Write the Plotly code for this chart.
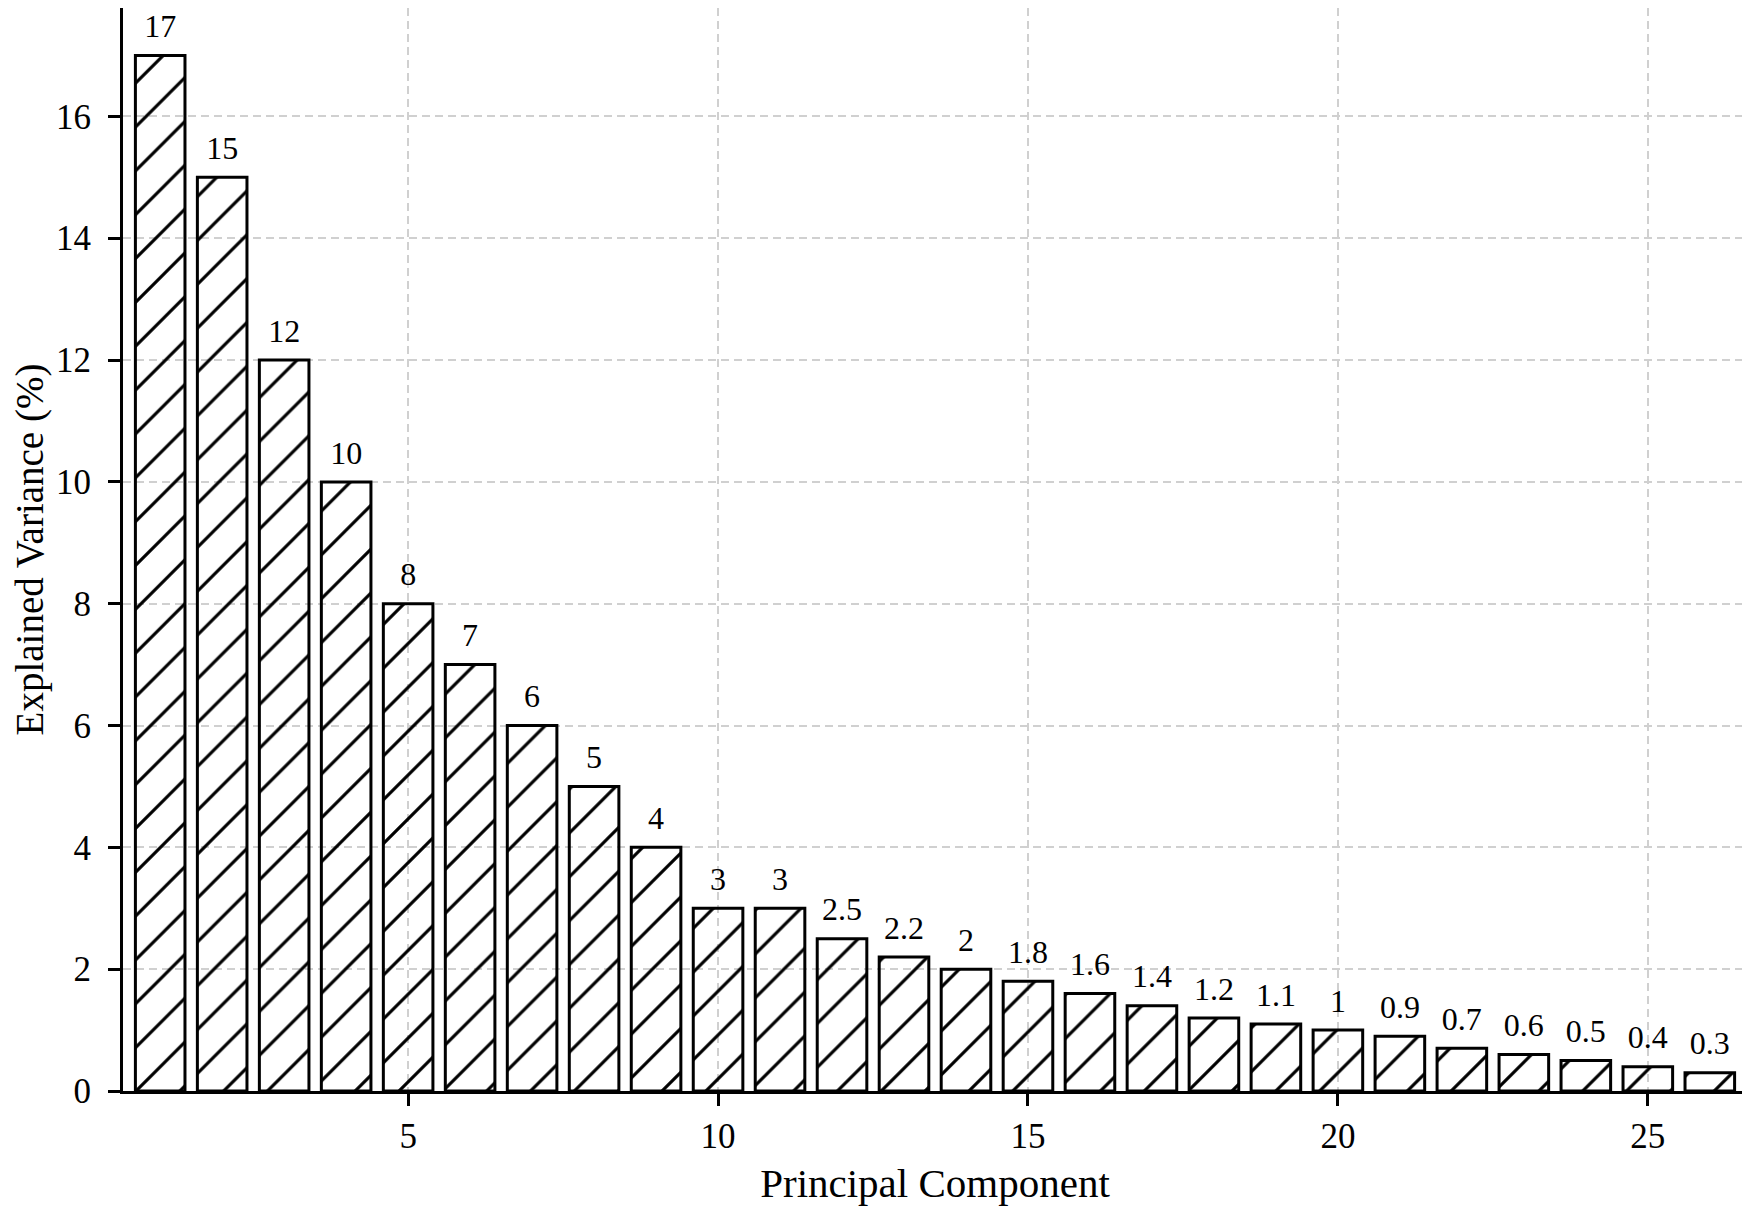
import plotly.graph_objects as go

components = list(range(1, 27))
variance = [17, 15, 12, 10, 8, 7, 6, 5, 4, 3, 3, 2.5, 2.2, 2, 1.8, 1.6, 1.4, 1.2, 1.1, 1, 0.9, 0.7, 0.6, 0.5, 0.4, 0.3]
x_ticks = [5, 10, 15, 20, 25]
y_ticks = [0, 2, 4, 6, 8, 10, 12, 14, 16]

FONT = "Liberation Serif"

fig = go.Figure()
fig.add_trace(go.Bar(
    x=components,
    y=variance,
    width=0.8,
    marker=dict(
        color="rgba(0,0,0,0)",
        line=dict(color="black", width=3),
        pattern=dict(shape="/", size=31, solidity=0.1, fgcolor="black", fgopacity=1,
                     bgcolor="rgba(0,0,0,0)", fillmode="overlay"),
    ),
    showlegend=False,
    hoverinfo="skip",
))

fig.add_trace(go.Scatter(
    x=components,
    y=variance,
    mode="markers+text",
    text=[f"{v:g}" for v in variance],
    textposition="top center",
    textfont=dict(family=FONT, size=32, color="black"),
    marker=dict(size=15, opacity=0, color="white"),
    cliponaxis=False,
    showlegend=False,
    hoverinfo="skip",
))

grid_common = dict(gridcolor="#d0d0d0", gridwidth=1.6, griddash="8px,5px")

fig.update_layout(
    width=1742, height=1203,
    paper_bgcolor="white", plot_bgcolor="white",
    margin=dict(l=115, r=3, t=0, b=120),
    font=dict(family=FONT, size=34, color="black"),
    xaxis=dict(
        range=[0.4, 26.6],
        tickvals=x_ticks,
        showline=True, linecolor="black", linewidth=3,
        ticks="outside", ticklen=12, tickwidth=3, tickcolor="black",
        showgrid=True, zeroline=False, automargin=False,
        title=dict(text="Principal Component", font=dict(family=FONT, size=41), standoff=14),
        tickfont=dict(family=FONT, size=35),
        **grid_common,
    ),
    yaxis=dict(
        range=[0, 17.78],
        tickvals=y_ticks,
        showline=True, linecolor="black", linewidth=3,
        ticks="outside", ticklen=12, tickwidth=3, tickcolor="black",
        ticklabelstandoff=10,
        showgrid=True, zeroline=False, automargin=False,
        title=dict(text="Explained Variance (%)", font=dict(family=FONT, size=39), standoff=26),
        tickfont=dict(family=FONT, size=35),
        **grid_common,
    ),
)

fig.write_html("out.html")
